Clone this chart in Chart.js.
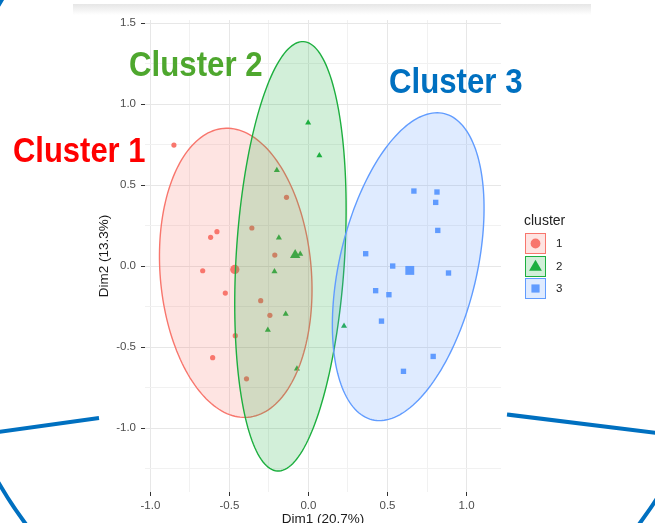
<!DOCTYPE html>
<html>
<head>
<meta charset="utf-8">
<title>Cluster plot</title>
<script src="https://cdn.jsdelivr.net/npm/chart.js@4.4.1/dist/chart.umd.min.js"></script>
<style>
  html, body { margin: 0; padding: 0; background: #fff; overflow: hidden; }
  #wrap { position: relative; width: 655px; height: 540px; overflow: hidden; }
  #chartBox { position: absolute; left: 0; top: 0; width: 655px; height: 540px; }
  #topBand { position: absolute; left: 73px; top: 4px; width: 518px; height: 11px;
             background: linear-gradient(#e6e6e6, #ffffff); }
  .clabel { position: absolute; font-family: "Liberation Sans Narrow", "Liberation Sans", Arial, sans-serif;
            font-weight: bold; font-size: 35px; line-height: 35px; white-space: nowrap; transform-origin: 0 0; }
  .legendTitle { position: absolute; left: 524px; top: 213px; font-family: "Liberation Sans", Arial, sans-serif;
                 font-size: 14px; line-height: 14px; color: #222; }
  .key { position: absolute; left: 525px; width: 21px; height: 21px; box-sizing: border-box; }
  .key svg { position: absolute; left: 0; top: 0; }
  .keyLabel { position: absolute; left: 556px; font-family: "Liberation Sans", Arial, sans-serif;
              font-size: 11.5px; line-height: 21px; color: #222; }
  #deco { position: absolute; left: 0; top: 0; pointer-events: none; }
</style>
</head>
<body>
<div id="wrap">
  <div id="topBand"></div>
  <div id="chartBox"><canvas id="clusterChart"></canvas></div>
  <div id="labels"></div>
  <div id="legend"></div>
  <svg id="deco" width="655" height="540">
    <ellipse cx="332.5" cy="244" rx="397" ry="441" fill="none" stroke="#0070C0" stroke-width="4"/>
    <line x1="-2" y1="432" x2="99" y2="418" stroke="#0070C0" stroke-width="4"/>
    <line x1="507" y1="414.5" x2="657" y2="433" stroke="#0070C0" stroke-width="4"/>
  </svg>
</div>
<script>
// Cluster membership (Dim1 = x, Dim2 = y)
const clusterNames = ['1', '2', '3'];
const clusterColors = ['#F8766D', '#1DAF3F', '#619CFF'];
const pointStyles = ['circle', 'triangle', 'rect'];

const cluster1X = [-0.851, -0.139, -0.358, -0.579, -0.619, -0.213, -0.669, -0.526, -0.302, -0.244, -0.463, -0.606, -0.392];
const cluster1Y = [0.747, 0.424, 0.235, 0.212, 0.177, 0.068, -0.029, -0.167, -0.214, -0.304, -0.430, -0.566, -0.696];

const cluster2X = [-0.002, 0.069, -0.200, -0.187, -0.052, -0.215, -0.144, -0.257, 0.225, -0.073];
const cluster2Y = [0.885, 0.683, 0.591, 0.175, 0.074, -0.033, -0.296, -0.395, -0.370, -0.634];

const cluster3X = [0.667, 0.813, 0.805, 0.818, 0.362, 0.533, 0.886, 0.425, 0.509, 0.462, 0.789, 0.601];
const cluster3Y = [0.463, 0.457, 0.393, 0.220, 0.076, 0.000, -0.043, -0.152, -0.177, -0.340, -0.558, -0.650];

// cluster centres (the big markers)
const centerX = [-0.466, -0.084, 0.641];
const centerY = [-0.021, 0.068, -0.027];

// concentration ellipses: centre, semi-axes and tilt (degrees)
const ellipseCx = [-0.460, -0.114, 0.631];
const ellipseCy = [-0.042, 0.060, -0.004];
const ellipseA = [0.895, 1.328, 0.972];
const ellipseB = [0.478, 0.343, 0.434];
const ellipseAngle = [95, 86.4, 76.4];

// axes
const xTickValues = [-1.0, -0.5, 0.0, 0.5, 1.0];
const xTickLabels = ['-1.0', '-0.5', '0.0', '0.5', '1.0'];
const yTickValues = [-1.0, -0.5, 0.0, 0.5, 1.0, 1.5];
const yTickLabels = ['-1.0', '-0.5', '0.0', '0.5', '1.0', '1.5'];

// big text labels on the picture
const bigLabels = ['Cluster 1', 'Cluster 2', 'Cluster 3'];
const bigLabelColors = ['#FF0000', '#4EA72E', '#0070C0'];

function rgba(hex, a) {
    const n = parseInt(hex.slice(1), 16);
    return 'rgba(' + (n >> 16) + ',' + ((n >> 8) & 255) + ',' + (n & 255) + ',' + a + ')';
}

function toPoints(xs, ys) {
    return xs.map((v, i) => ({ x: v, y: ys[i] }));
}

// major ticks plus minor ones halfway between
function buildTicks(values, min, max) {
    const out = [];
    values.forEach(v => {
        [v - 0.25, v, v + 0.25].forEach(t => {
            if (t >= min && t <= max && !out.some(o => Math.abs(o - t) < 1e-9)) out.push(t);
        });
    });
    return out.sort((a, b) => a - b).map(v => ({ value: v }));
}

function isMajor(values, v) {
    return values.some(t => Math.abs(t - v) < 1e-9);
}

const allX = [cluster1X, cluster2X, cluster3X];
const allY = [cluster1Y, cluster2Y, cluster3Y];
const smallRadius = [2.6, 3.5, 3.8];
const bigRadius = [4.6, 6.0, 6.3];

const datasets = [];
for (let i = 0; i < 3; i++) {
    datasets.push({
        label: clusterNames[i],
        data: toPoints(allX[i], allY[i]),
        pointStyle: pointStyles[i],
        pointRadius: smallRadius[i],
        backgroundColor: clusterColors[i],
        borderWidth: 0
    });
    datasets.push({
        label: clusterNames[i] + ' centre',
        data: [{ x: centerX[i], y: centerY[i] }],
        pointStyle: pointStyles[i],
        pointRadius: bigRadius[i],
        backgroundColor: clusterColors[i],
        borderWidth: 0
    });
}

// ellipses go on top of the points, as in the original
const ellipsePlugin = {
    id: 'clusterEllipses',
    afterDatasetsDraw(chart) {
        const { ctx, chartArea, scales } = chart;
        ctx.save();
        ctx.beginPath();
        ctx.rect(chartArea.left, chartArea.top, chartArea.right - chartArea.left, chartArea.bottom - chartArea.top);
        ctx.clip();
        for (let i = 0; i < ellipseCx.length; i++) {
            const th = ellipseAngle[i] * Math.PI / 180;
            ctx.beginPath();
            for (let k = 0; k <= 180; k++) {
                const t = k / 180 * 2 * Math.PI;
                const dx = ellipseA[i] * Math.cos(t);
                const dy = ellipseB[i] * Math.sin(t);
                const vx = ellipseCx[i] + dx * Math.cos(th) - dy * Math.sin(th);
                const vy = ellipseCy[i] + dx * Math.sin(th) + dy * Math.cos(th);
                const px = scales.x.getPixelForValue(vx);
                const py = scales.y.getPixelForValue(vy);
                if (k === 0) ctx.moveTo(px, py); else ctx.lineTo(px, py);
            }
            ctx.closePath();
            ctx.fillStyle = rgba(clusterColors[i], 0.2);
            ctx.fill();
            ctx.strokeStyle = clusterColors[i];
            ctx.lineWidth = 1.4;
            ctx.stroke();
        }
        ctx.restore();
    }
};

function axisOptions(values, labels, min, max) {
    return {
        type: 'linear',
        min: min,
        max: max,
        afterBuildTicks: s => { s.ticks = buildTicks(values, min, max); },
        ticks: {
            autoSkip: false,
            maxRotation: 0,
            padding: 3,
            color: '#4D4D4D',
            font: { family: 'Liberation Sans', size: 11.5 },
            callback: v => {
                const idx = values.findIndex(t => Math.abs(t - v) < 1e-9);
                return idx >= 0 ? labels[idx] : '';
            }
        },
        grid: {
            color: c => (c.tick && isMajor(values, c.tick.value)) ? '#e7e7e7' : '#f1f1f1',
            lineWidth: 1,
            tickLength: 4,
            tickColor: c => (c.tick && isMajor(values, c.tick.value)) ? '#333333' : 'rgba(0,0,0,0)'
        },
        border: { display: false }
    };
}

const xAxis = axisOptions(xTickValues, xTickLabels, -1.034, 1.218);
xAxis.afterFit = s => { s.height = 48; };
xAxis.title = { display: true, text: 'Dim1 (20.7%)', color: '#1a1a1a',
                font: { family: 'Liberation Sans', size: 13.5 }, padding: { top: 0, bottom: 13 } };

const yAxis = axisOptions(yTickValues, yTickLabels, -1.395, 1.519);
yAxis.ticks.padding = 5;
yAxis.afterFit = s => { s.width = 57; };
yAxis.title = { display: true, text: 'Dim2 (13.3%)', color: '#1a1a1a',
                font: { family: 'Liberation Sans', size: 13.5 }, padding: { top: 8, bottom: 0 } };

new Chart(document.getElementById('clusterChart').getContext('2d'), {
    type: 'scatter',
    data: { datasets: datasets },
    options: {
        responsive: true,
        maintainAspectRatio: false,
        animation: false,
        events: [],
        layout: { padding: { left: 88, right: 154, top: 20, bottom: 0 } },
        scales: { x: xAxis, y: yAxis },
        plugins: { legend: { display: false }, tooltip: { enabled: false } }
    },
    plugins: [ellipsePlugin]
});

// "Cluster n" labels: left edge, baseline and width as seen in the picture
const labelLeft = [12.5, 128.7, 388.5];
const labelBaseline = [161.7, 76, 92.7];
const labelWidth = [132.5, 133.6, 133.5];
const labelBox = document.getElementById('labels');
bigLabels.forEach((txt, i) => {
    const d = document.createElement('div');
    d.className = 'clabel';
    d.textContent = txt;
    d.style.color = bigLabelColors[i];
    d.style.left = labelLeft[i] + 'px';
    d.style.top = (labelBaseline[i] - 0.8465 * 35) + 'px';
    labelBox.appendChild(d);
    const w = d.getBoundingClientRect().width;
    d.style.transform = 'scaleX(' + (labelWidth[i] / w) + ')';
});

// legend, built like the ggplot key
const legend = document.getElementById('legend');
const t = document.createElement('div');
t.className = 'legendTitle';
t.textContent = 'cluster';
legend.appendChild(t);
const keyShapes = [
    c => '<circle cx="10.5" cy="10.5" r="4.2" fill="' + c + '"/>',
    c => '<polygon points="10.5,5.5 16,15 5,15" fill="' + c + '"/>',
    c => '<rect x="7" y="7" width="7" height="7" fill="' + c + '"/>'
];
clusterNames.forEach((name, i) => {
    const top = 233 + i * 22.5;
    const k = document.createElement('div');
    k.className = 'key';
    k.style.top = top + 'px';
    k.style.background = rgba(clusterColors[i], 0.2);
    k.style.border = '1.5px solid ' + clusterColors[i];
    k.innerHTML = '<svg width="21" height="21" viewBox="1.5 1.5 18 18" style="left:-1.5px;top:-1.5px">' + keyShapes[i](clusterColors[i]) + '</svg>';
    legend.appendChild(k);
    const l = document.createElement('div');
    l.className = 'keyLabel';
    l.style.top = top + 'px';
    l.textContent = name;
    legend.appendChild(l);
});
</script>
</body>
</html>
